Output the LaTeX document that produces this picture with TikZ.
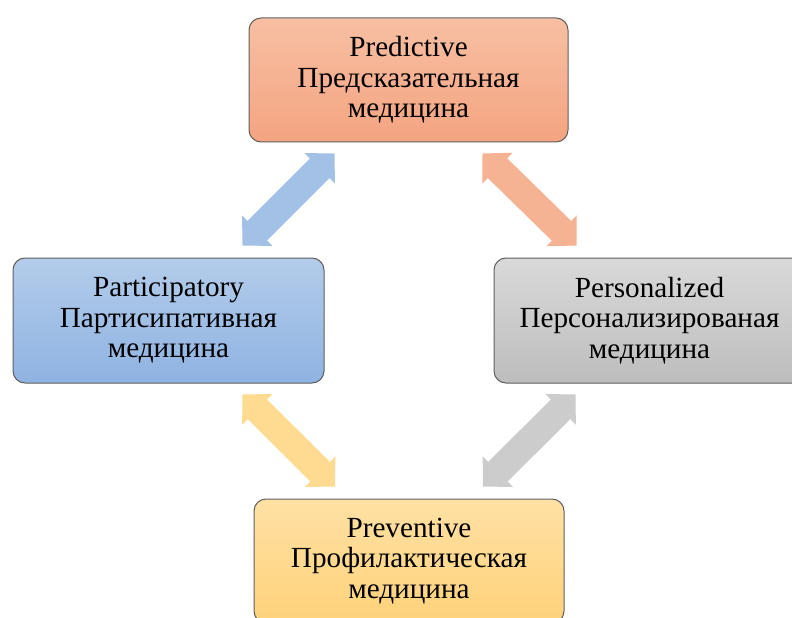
\documentclass[tikz,border=0pt]{standalone}
\usepackage{fontspec}
\setmainfont{Liberation Serif}
\usepackage{tikz}
\usetikzlibrary{arrows.meta, positioning, calc, shapes}

\definecolor{orangetop}{HTML}{F7BFA3}
\definecolor{orangebot}{HTML}{F4A480}
\definecolor{bluetop}{HTML}{B3CCEA}
\definecolor{bluebot}{HTML}{8FB3E2}
\definecolor{graytop}{HTML}{D9D9D9}
\definecolor{graybot}{HTML}{BDBDBD}
\definecolor{yellowtop}{HTML}{FFE1A4}
\definecolor{yellowbot}{HTML}{FFD27A}
\definecolor{framegray}{HTML}{5F5F5F}

\tikzset{
    medbox/.style={draw=framegray, line width=0.5pt, rounded corners=6pt,
        inner sep=0pt, align=center, font=\fontsize{14.6pt}{15.3pt}\selectfont,
        minimum width=155.5pt, minimum height=62.5pt},
    medarrow/.style={<->, line width=13.8pt}
}

\begin{document}
\begin{tikzpicture}[>={Triangle[length=10.5pt, width=21.5pt, line width=0.6pt]}]

    \useasboundingbox (0pt,0pt) rectangle (396pt,308.5pt);

    % Boxes with gradients
    \node[medbox, minimum width=159.5pt, minimum height=62pt,
         top color=orangetop, bottom color=orangebot] (predictive) at (204.25pt,268.5pt)
         {Predictive\\Предсказательная\\медицина};
    \node[medbox, top color=bluetop, bottom color=bluebot] (participatory) at (84.25pt,148.25pt)
         {Participatory\\Партисипативная\\медицина};
    \node[medbox, top color=graytop, bottom color=graybot] (personalized) at (324.75pt,148.25pt)
         {Personalized\\Персонализированая\\медицина};
    \node[medbox, minimum width=155pt, minimum height=62pt,
         top color=yellowtop, bottom color=yellowbot] (preventive) at (204.5pt,28pt)
         {Preventive\\Профилактическая\\медицина};

    % Double arrows between the boxes
    \draw[medarrow, color=bluetop!55!bluebot]
        ([xshift=37pt, yshift=6pt]participatory.north) -- ([xshift=-37pt, yshift=-5.5pt]predictive.south);
    \draw[medarrow, color=orangetop!55!orangebot]
        ([xshift=37pt, yshift=-5.5pt]predictive.south) -- ([xshift=-36.5pt, yshift=6pt]personalized.north);
    \draw[medarrow, color=yellowtop!55!yellowbot]
        ([xshift=37pt, yshift=-5.5pt]participatory.south) -- ([xshift=-37pt, yshift=6pt]preventive.north);
    \draw[medarrow, color=graytop!55!graybot]
        ([xshift=-37pt, yshift=-5.5pt]personalized.south) -- ([xshift=37pt, yshift=6pt]preventive.north);

\end{tikzpicture}
\end{document}
